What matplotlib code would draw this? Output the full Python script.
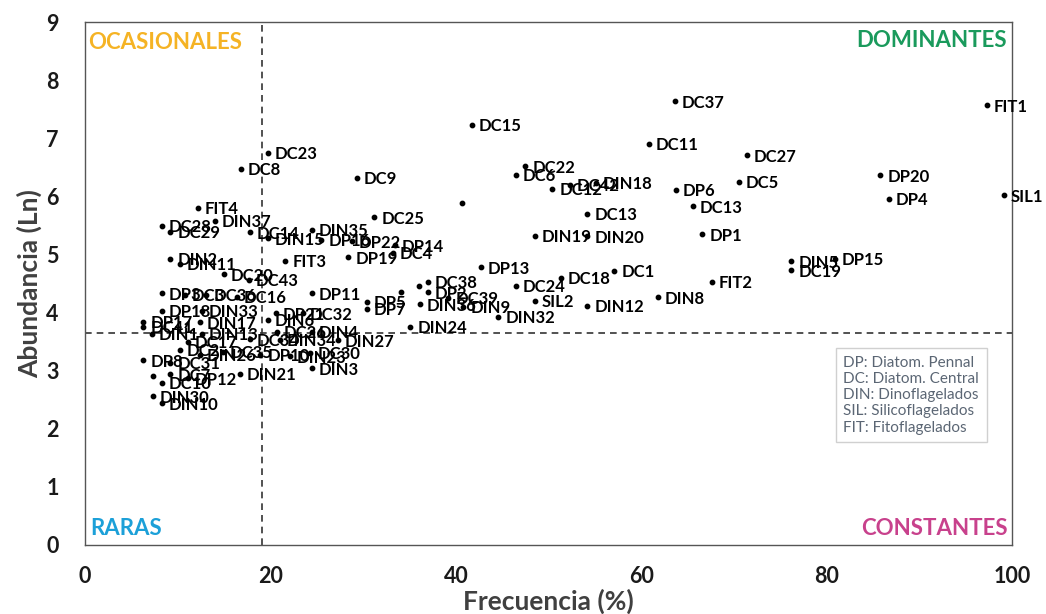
import matplotlib
matplotlib.use("Agg")
import matplotlib.pyplot as plt

plt.rcParams['font.family'] = ['Lato', 'DejaVu Sans']

# especies: etiqueta, frecuencia (%), abundancia (Ln)
labels = ["DC37", "FIT1", "DC15", "DC11", "DC23", "DC27", "DC8", "DC22", "DC6", "DC9",
          "DP20", "DC5", "DC12", "DC42", "DIN18", "DP6", "SIL1", "DP4", "", "DC13",
          "DC13", "FIT4", "DC25", "DIN37", "DC28", "DC29", "DC14", "DIN35", "DIN15", "DP16",
          "DP22", "DP14", "DC4", "DP19", "DIN2", "FIT3", "DIN11", "DP13", "DIN19", "DIN20",
          "DP1", "DIN5", "DP15", "DC19", "FIT2", "DC1", "DC18", "DC24", "SIL2", "DIN8",
          "DIN12", "DIN32", "DIN9", "DIN24", "DP11", "DP5", "DP7", "DIN36", "DC38", "",
          "DP2", "DC39", "", "DC20", "DC43", "DP3", "DC3", "DC36", "DC16", "DP18",
          "DIN33", "DP17", "DC41", "DIN1", "DIN17", "DIN13", "DC17", "DC2", "DIN26", "DC35",
          "DP10", "DP8", "DC31", "DP12", "DC7", "", "DC10", "DIN21", "DIN30", "DIN10",
          "DP21", "DC32", "DIN6", "DC26", "DIN4", "DC34", "DIN34", "DIN27", "DC30", "DIN23",
          "DIN3"]
frecuencia = [63.6, 97.3, 41.7, 60.8, 19.7, 71.4, 16.8, 47.5, 46.5, 29.3,
              85.8, 70.5, 50.4, 52.3, 55.1, 63.7, 99.1, 86.7, 40.7, 54.2,
              65.6, 12.2, 31.2, 14.0, 8.3, 9.2, 17.8, 24.5, 19.7, 25.5,
              28.8, 33.4, 33.2, 28.4, 9.2, 21.6, 10.2, 42.7, 48.5, 54.2,
              66.6, 76.2, 80.9, 76.2, 67.6, 57.1, 51.3, 46.5, 48.5, 61.8,
              54.2, 44.6, 40.8, 35.1, 24.5, 30.4, 30.4, 36.1, 37.0, 36.0,
              37.0, 39.2, 34.1, 15.0, 17.7, 8.3, 10.8, 13.1, 16.4, 8.3,
              12.6, 6.3, 6.3, 7.2, 12.4, 12.6, 11.1, 10.2, 12.4, 14.9,
              18.9, 6.3, 9.2, 11.1, 9.2, 7.3, 8.3, 16.7, 7.3, 8.3,
              20.6, 23.5, 19.7, 20.7, 24.5, 17.8, 21.0, 27.3, 24.3, 22.1,
              24.5]
abundancia = [7.64, 7.57, 7.23, 6.90, 6.75, 6.71, 6.47, 6.52, 6.37, 6.32,
              6.36, 6.25, 6.13, 6.20, 6.23, 6.11, 6.02, 5.96, 5.88, 5.70,
              5.83, 5.80, 5.64, 5.58, 5.49, 5.39, 5.38, 5.43, 5.28, 5.25,
              5.23, 5.16, 5.03, 4.95, 4.93, 4.89, 4.84, 4.78, 5.32, 5.31,
              5.35, 4.88, 4.93, 4.73, 4.53, 4.72, 4.60, 4.46, 4.20, 4.26,
              4.12, 3.93, 4.10, 3.76, 4.33, 4.19, 4.06, 4.14, 4.53, 4.46,
              4.35, 4.25, 4.36, 4.66, 4.56, 4.33, 4.31, 4.31, 4.27, 4.03,
              4.03, 3.84, 3.76, 3.64, 3.83, 3.64, 3.50, 3.36, 3.27, 3.33,
              3.27, 3.18, 3.14, 2.87, 2.94, 2.91, 2.79, 2.95, 2.56, 2.44,
              3.99, 3.99, 3.88, 3.67, 3.67, 3.54, 3.53, 3.52, 3.31, 3.25,
              3.04]

corte_x = 19.1
corte_y = 3.65

leyenda = ["DP: Diatom. Pennal", "DC: Diatom. Central", "DIN: Dinoflagelados",
           "SIL: Silicoflagelados", "FIT: Fitoflagelados"]

fig = plt.figure(figsize=(10.46, 6.14), dpi=100)
ax = fig.add_axes([0.0813, 0.1124, 0.8862, 0.8516])

ax.scatter(frecuencia, abundancia, s=10, color='black', zorder=3)
for lab, x, y in zip(labels, frecuencia, abundancia):
    if lab:
        ax.annotate(lab, (x, y), xytext=(5, -1), textcoords='offset points',
                    fontsize=12, fontweight='bold', va='center', ha='left', color='black')

ax.axvline(corte_x, color='#333333', ls=(0, (4, 3)), lw=1.2)
ax.axhline(corte_y, color='#333333', ls=(0, (4, 3)), lw=1.2)

ax.set_xlim(0, 100)
ax.set_ylim(0, 9)
ax.set_xticks(range(0, 101, 20))
ax.set_yticks(range(0, 10))
ax.tick_params(length=0, labelsize=15.5, labelcolor='#1a1a1a')
ax.tick_params(axis='x', pad=15)
ax.tick_params(axis='y', pad=19)
for t in ax.get_xticklabels() + ax.get_yticklabels():
    t.set_fontweight('bold')
for s in ax.spines.values():
    s.set_color('#555555')
    s.set_linewidth(1)

ax.set_xlabel("Frecuencia (%)", fontsize=19, fontweight='bold', color='#404040', labelpad=1)
ax.set_ylabel("Abundancia (Ln)", fontsize=19, fontweight='bold', color='#404040', labelpad=3)

ax.text(0.003, 0.982, "OCASIONALES", transform=ax.transAxes, fontsize=16,
        fontweight='bold', color='#F5B324', va='top', ha='left')
ax.text(0.995, 0.985, "DOMINANTES", transform=ax.transAxes, fontsize=16,
        fontweight='bold', color='#1A9A5C', va='top', ha='right')
ax.text(0.006, 0.012, "RARAS", transform=ax.transAxes, fontsize=16,
        fontweight='bold', color='#1CA0D8', va='bottom', ha='left')
ax.text(0.995, 0.012, "CONSTANTES", transform=ax.transAxes, fontsize=16,
        fontweight='bold', color='#C8418C', va='bottom', ha='right')

ax.text(0.818, 0.362, "\n".join(leyenda), transform=ax.transAxes, fontsize=11,
        color='#5B6674', va='top', ha='left', linespacing=1.2,
        bbox=dict(boxstyle='square,pad=0.5', fc='white', ec='#D0D0D0', lw=1))

fig.savefig("out.png", dpi=100)
